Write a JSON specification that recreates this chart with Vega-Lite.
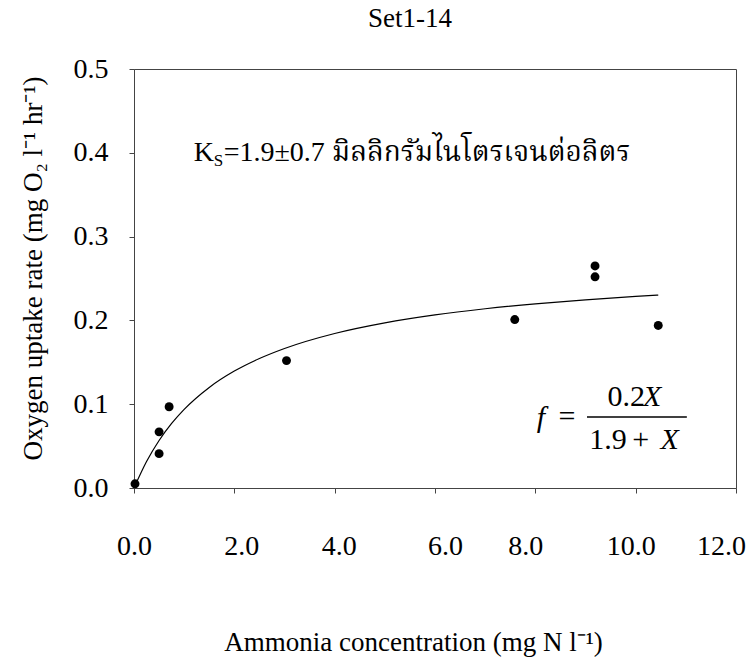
{
  "$schema": "https://vega.github.io/schema/vega-lite/v6.json",
  "autosize": {"type": "none"},
  "width": 602,
  "height": 419,
  "padding": {"left": 134, "top": 69, "right": 14, "bottom": 169},
  "background": "white",
  "title": {"text": "Set1-14", "font": "Liberation Serif", "fontSize": 27, "fontWeight": "normal", "color": "black", "anchor": "middle", "offset": 22, "dx": -25},
  "config": {
    "view": {"stroke": "#444", "strokeWidth": 1},
    "font": "Liberation Serif",
    "axis": {"grid": false, "domainColor": "#444", "tickColor": "#444", "labelColor": "black", "titleColor": "black", "labelFont": "Liberation Serif", "titleFont": "Liberation Serif", "labelFontSize": 28, "titleFontSize": 27, "titleFontWeight": "normal", "tickSize": 5, "labelFlush": false, "labelOverlap": false}
  },
  "datasets": {
    "obs": [
      {"x": 0.02, "y": 0.005},
      {"x": 0.5, "y": 0.067},
      {"x": 0.5, "y": 0.041},
      {"x": 0.7, "y": 0.097},
      {"x": 3.04, "y": 0.152},
      {"x": 7.59, "y": 0.201},
      {"x": 9.19, "y": 0.265},
      {"x": 9.19, "y": 0.252},
      {"x": 10.45, "y": 0.194}
    ],
    "fit": [
      {"x": 0, "y": 0},
      {"x": 0.25, "y": 0.0316},
      {"x": 0.5, "y": 0.0567},
      {"x": 0.75, "y": 0.077},
      {"x": 1.0, "y": 0.0938},
      {"x": 1.5, "y": 0.12},
      {"x": 2.0, "y": 0.1395},
      {"x": 2.5, "y": 0.1545},
      {"x": 3.0, "y": 0.1665},
      {"x": 4.0, "y": 0.1844},
      {"x": 5.0, "y": 0.1971},
      {"x": 6.0, "y": 0.2066},
      {"x": 7.0, "y": 0.2139},
      {"x": 8.0, "y": 0.2198},
      {"x": 9.0, "y": 0.2246},
      {"x": 10.0, "y": 0.2286},
      {"x": 10.45, "y": 0.2302}
    ],
    "ks": [{"x": 1.19, "y": 0.4}],
    "upright": [
      {"label": "=", "x": 8.63, "y": 0.0847},
      {"label": "0.2", "x": 9.81, "y": 0.1086},
      {"label": "1.9", "x": 9.45, "y": 0.0573},
      {"label": "+", "x": 10.1, "y": 0.0573}
    ],
    "italic": [
      {"label": "f", "x": 8.11, "y": 0.0835},
      {"label": "X", "x": 10.33, "y": 0.1086},
      {"label": "X", "x": 10.68, "y": 0.0573}
    ],
    "bar": [{"x": 9.03, "x2": 11.02, "y": 0.0847}]
  },
  "layer": [
    {
      "data": {"name": "fit"},
      "mark": {"type": "line", "color": "black", "strokeWidth": 1.2, "interpolate": "monotone"},
      "encoding": {
        "x": {"field": "x", "type": "quantitative", "scale": {"domain": [0, 12], "nice": false},
          "axis": {"values": [0, 2, 4, 6, 8, 10, 12], "format": ".1f", "labelPadding": 39,
            "labelOffset": {"condition": [
              {"test": "datum.value == 2", "value": 7},
              {"test": "datum.value == 4", "value": 4},
              {"test": "datum.value == 6", "value": 10},
              {"test": "datum.value == 8", "value": -10},
              {"test": "datum.value == 10", "value": -5},
              {"test": "datum.value == 12", "value": -15}
            ], "value": 0},
            "title": "Ammonia concentration (mg N l⁻¹)", "titlePadding": 69, "titleX": 279}},
        "y": {"field": "y", "type": "quantitative", "scale": {"domain": [0, 0.5], "nice": false},
          "axis": {"values": [0, 0.1, 0.2, 0.3, 0.4, 0.5], "format": ".1f", "labelPadding": 21, "title": "Oxygen uptake rate (mg O₂ l⁻¹ hr⁻¹)", "titlePadding": 26, "titleY": 199}}
      }
    },
    {
      "data": {"name": "obs"},
      "mark": {"type": "circle", "color": "black", "opacity": 1, "size": 80},
      "encoding": {
        "x": {"field": "x", "type": "quantitative"},
        "y": {"field": "y", "type": "quantitative"}
      }
    },
    {
      "data": {"name": "ks"},
      "mark": {"type": "text", "text": "K", "align": "left", "baseline": "middle", "fontSize": 28, "font": "Liberation Serif", "color": "black"},
      "encoding": {"x": {"field": "x", "type": "quantitative"}, "y": {"field": "y", "type": "quantitative"}}
    },
    {
      "data": {"name": "ks"},
      "mark": {"type": "text", "text": "S", "align": "left", "baseline": "middle", "fontSize": 17, "font": "Liberation Serif", "color": "black", "dx": 20, "dy": 8},
      "encoding": {"x": {"field": "x", "type": "quantitative"}, "y": {"field": "y", "type": "quantitative"}}
    },
    {
      "data": {"name": "ks"},
      "mark": {"type": "text", "text": "=1.9±0.7 มิลลิกรัมไนโตรเจนต่อลิตร", "align": "left", "baseline": "middle", "fontSize": 28, "font": "Liberation Serif, Norasi, Kinnari, Noto Serif Thai, Noto Sans Thai, Garuda, Loma, serif", "color": "black", "dx": 30},
      "encoding": {"x": {"field": "x", "type": "quantitative"}, "y": {"field": "y", "type": "quantitative"}}
    },
    {
      "data": {"name": "upright"},
      "mark": {"type": "text", "align": "center", "baseline": "middle", "fontSize": 30, "font": "Liberation Serif", "color": "black"},
      "encoding": {
        "x": {"field": "x", "type": "quantitative"},
        "y": {"field": "y", "type": "quantitative"},
        "text": {"field": "label", "type": "nominal"}
      }
    },
    {
      "data": {"name": "italic"},
      "mark": {"type": "text", "align": "center", "baseline": "middle", "fontSize": 30, "fontStyle": "italic", "font": "Liberation Serif", "color": "black"},
      "encoding": {
        "x": {"field": "x", "type": "quantitative"},
        "y": {"field": "y", "type": "quantitative"},
        "text": {"field": "label", "type": "nominal"}
      }
    },
    {
      "data": {"name": "bar"},
      "mark": {"type": "rule", "color": "black", "strokeWidth": 1.3},
      "encoding": {
        "x": {"field": "x", "type": "quantitative"},
        "x2": {"field": "x2"},
        "y": {"field": "y", "type": "quantitative"}
      }
    }
  ]
}
